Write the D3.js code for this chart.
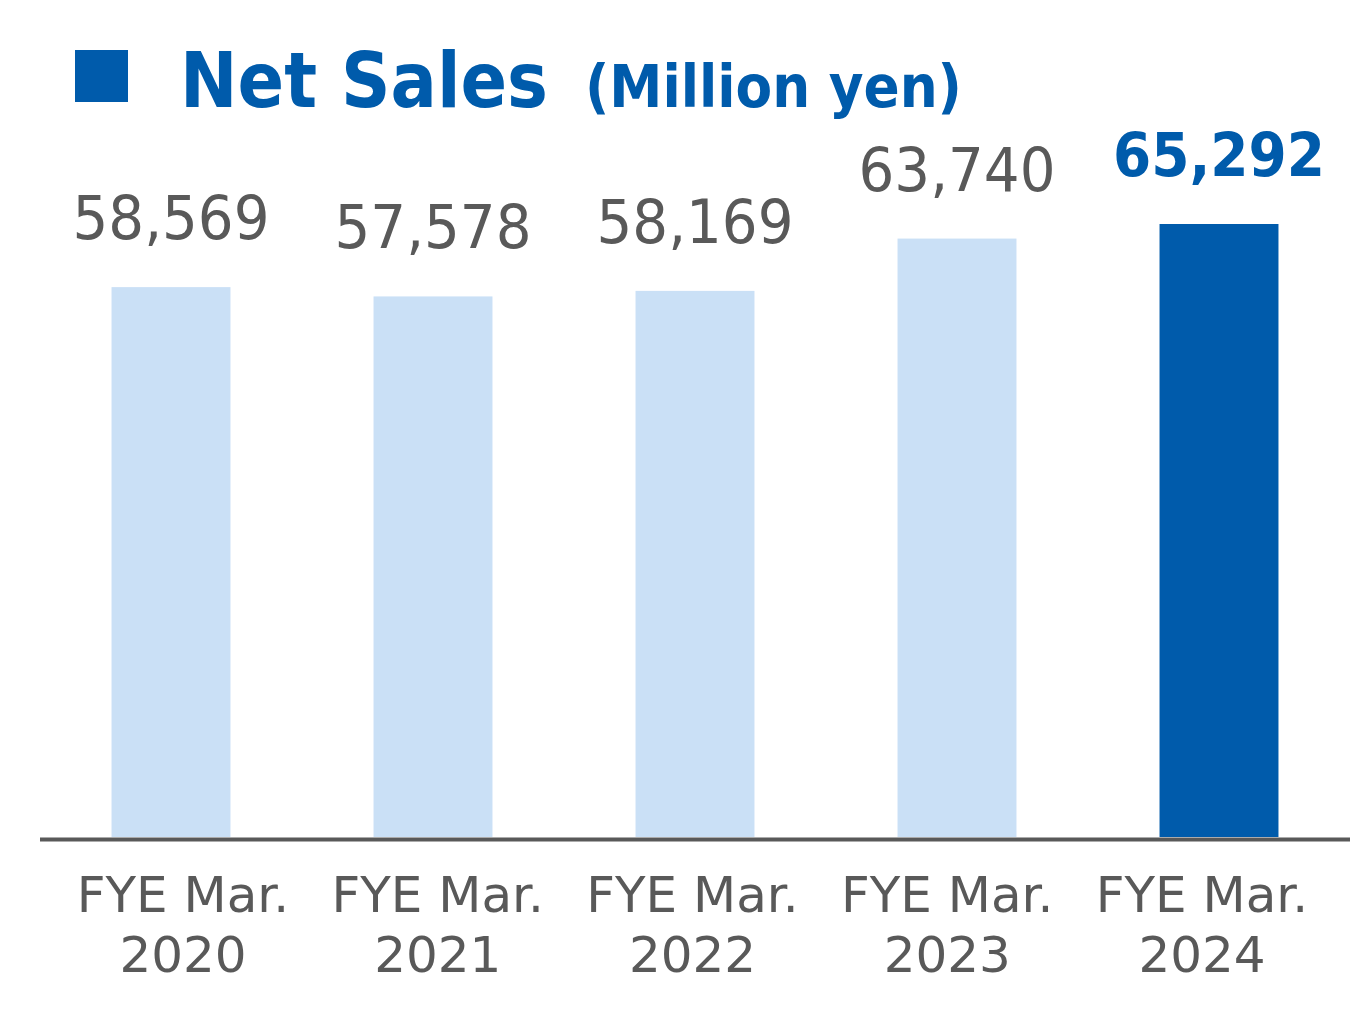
<!DOCTYPE html>
<html><head><meta charset="utf-8">
<script src="https://cdn.jsdelivr.net/npm/d3@7"></script>
<style>html,body{margin:0;padding:0;background:#fff}</style>
</head><body>
<svg id="chart" width="1355" height="1022"></svg>
<script>
const categories = ["FYE Mar.\n2020","FYE Mar.\n2021","FYE Mar.\n2022","FYE Mar.\n2023","FYE Mar.\n2024"];
const values = [58569, 57578, 58169, 63740, 65292];
const highlight = [false, false, false, false, true];
const titleMain = "Net Sales";
const titleUnit = "(Million yen)";

const LIGHT = "#cae0f6", DARK = "#005bab", GREY = "#595959";
const svg = d3.select("#chart");
const baseY = 837;

const x = d3.scaleBand().domain(d3.range(values.length)).range([40, 1350])
  .paddingInner(0.546).paddingOuter(0.273);
const xl = d3.scalePoint().domain(d3.range(values.length)).range([183, 1202]);
const y = d3.scaleLinear().domain([0, d3.max(values)]).range([baseY, 224]);

// title
svg.append("rect").attr("x",75).attr("y",50).attr("width",53).attr("height",52).attr("fill",DARK);
svg.append("text").attr("x",180).attr("y",107).attr("fill",DARK)
  .attr("font-family","DejaVu Sans").attr("font-weight","bold").attr("font-size",76)
  .attr("textLength",368).attr("lengthAdjust","spacingAndGlyphs").text(titleMain);
svg.append("text").attr("x",585).attr("y",107).attr("fill",DARK)
  .attr("font-family","DejaVu Sans").attr("font-weight","bold").attr("font-size",58)
  .attr("textLength",377).attr("lengthAdjust","spacingAndGlyphs").text(titleUnit);

// bars
svg.selectAll("rect.bar").data(values).join("rect").attr("class","bar")
  .attr("x",(d,i)=>x(i)).attr("width",x.bandwidth())
  .attr("y",d=>y(d)).attr("height",d=>baseY-y(d))
  .attr("fill",(d,i)=>highlight[i]?DARK:LIGHT);

// baseline
svg.append("line").attr("x1",40).attr("x2",1350).attr("y1",baseY+2.5).attr("y2",baseY+2.5)
  .attr("stroke",GREY).attr("stroke-width",4);

// value labels
svg.selectAll("text.val").data(values).join("text").attr("class","val")
  .attr("x",(d,i)=>x(i)+x.bandwidth()/2).attr("y",d=>y(d)-48)
  .attr("text-anchor","middle").attr("font-family","DejaVu Sans")
  .attr("font-size",60)
  .attr("font-weight",(d,i)=>highlight[i]?"bold":"normal")
  .attr("fill",(d,i)=>highlight[i]?DARK:GREY)
  .attr("textLength",(d,i)=>highlight[i]?212:197).attr("lengthAdjust","spacingAndGlyphs")
  .text(d=>d3.format(",")(d));

// category labels
const cat = svg.selectAll("text.cat").data(categories).join("text").attr("class","cat")
  .attr("text-anchor","middle").attr("font-family","DejaVu Sans").attr("font-size",50)
  .attr("fill",GREY);
cat.each(function(d,i){
  const lines = d.split("\n");
  d3.select(this).selectAll("tspan").data(lines).join("tspan")
    .attr("x",xl(i)).attr("y",(l,j)=>912+j*60).text(l=>l);
});
</script>
</body></html>
